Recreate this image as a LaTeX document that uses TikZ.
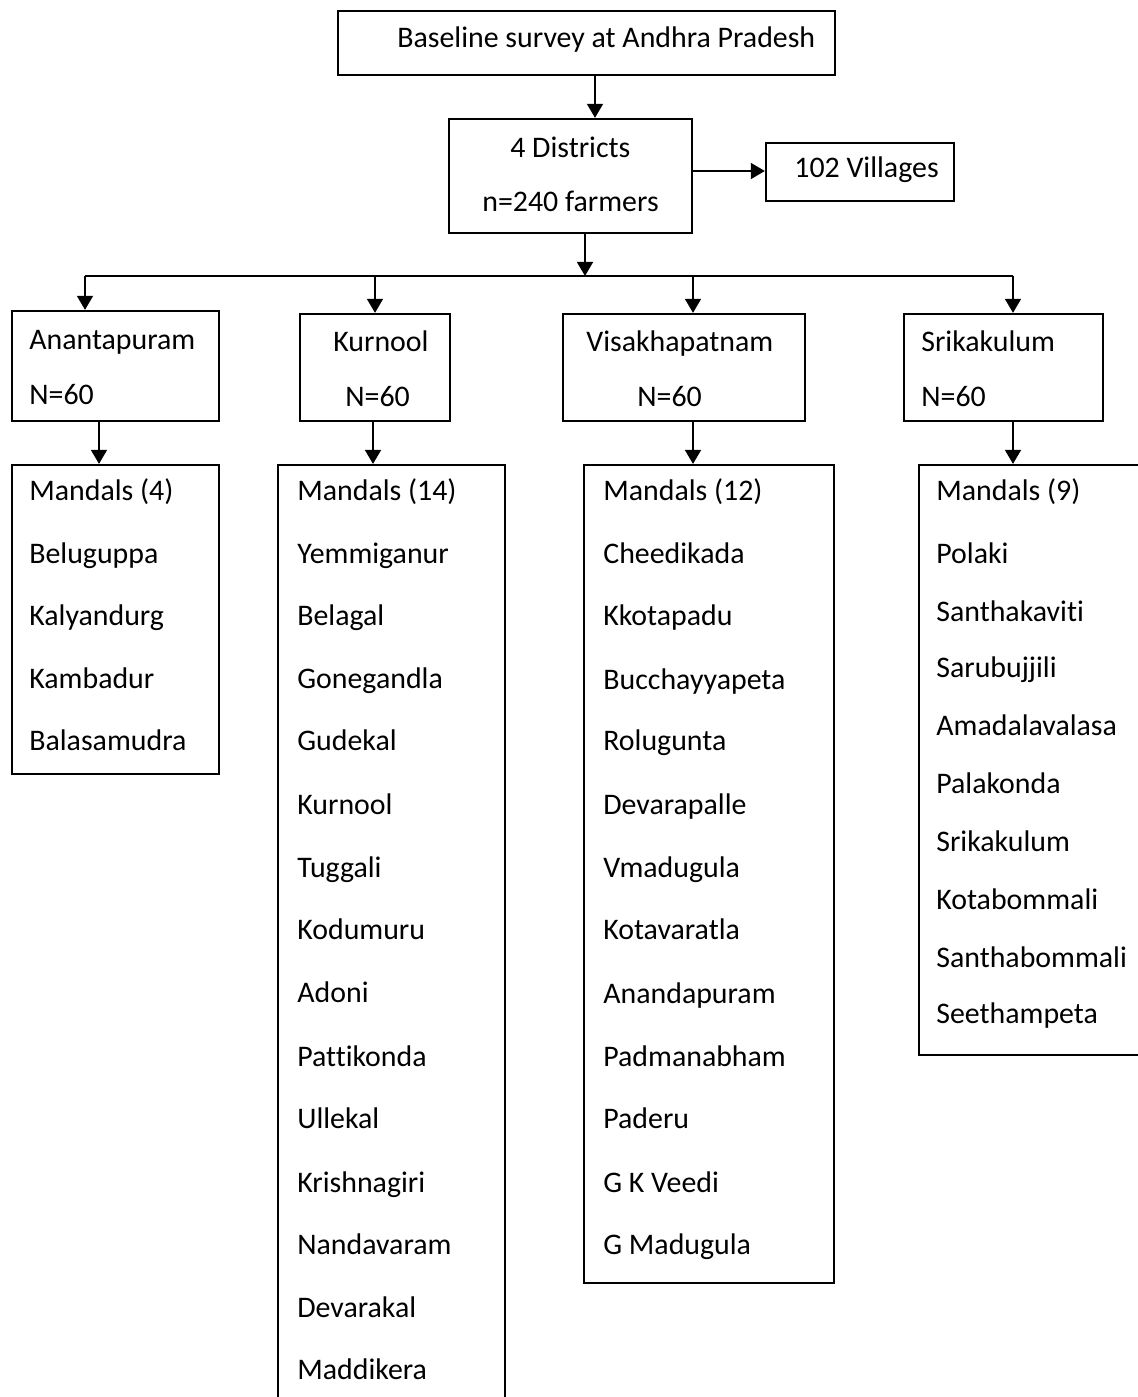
\documentclass[tikz,border=0pt]{standalone}
\usepackage{fontspec}
\setmainfont{Carlito}[Ligatures=CommonOff]
\usetikzlibrary{arrows.meta}
\begin{document}
\begin{tikzpicture}[x=0.02cm,y=-0.02cm,
  box/.style={draw, line width=1.3pt, inner sep=0pt},
  lbl/.style={anchor=base west, inner sep=0pt, font=\fontsize{17}{20}\selectfont},
  arr/.style={line width=1.3pt, -{Triangle[width=9pt,length=8pt]}},
  ln/.style={line width=1.3pt}]
\useasboundingbox (0,0) rectangle (1137,1397);
\fill[white] (0,0) rectangle (1137,1397);

% boxes
\node[box, minimum width=9.94cm, minimum height=1.28cm] (top) at (586.5,43) {};
\node[box, minimum width=4.86cm, minimum height=2.28cm] (dist) at (570.5,176) {};
\node[box, minimum width=3.76cm, minimum height=1.16cm] (vil) at (860,172) {};
\node[box, minimum width=4.14cm, minimum height=2.20cm] (ana) at (115.5,366) {};
\node[box, minimum width=3.00cm, minimum height=2.14cm] (kur) at (375,367.5) {};
\node[box, minimum width=4.84cm, minimum height=2.14cm] (vis) at (684,367.5) {};
\node[box, minimum width=3.98cm, minimum height=2.14cm] (sri) at (1003.5,367.5) {};
\node[box, minimum width=4.14cm, minimum height=6.18cm] (lA) at (115.5,619.5) {};
\node[box, minimum width=4.54cm, minimum height=18.9cm] (lK) at (391.5,937.5) {};
\node[box, minimum width=5.00cm, minimum height=16.36cm] (lV) at (709,874) {};
\node[box, minimum width=4.52cm, minimum height=11.8cm] (lS) at (1032,760) {};

% texts in the upper boxes
\node[lbl] (tTop) at (397,47) {Baseline survey at Andhra Pradesh};
\node[lbl] (tD1) at (510,157) {4 Districts};
\node[lbl] (tD2) at (482,211) {n=240 farmers};
\node[lbl] (tVil) at (794,177) {102 Villages};
\node[lbl] (tA1) at (29,349) {Anantapuram};
\node[lbl] (tA2) at (29,404) {N=60};
\node[lbl] (tK1) at (333,351) {Kurnool};
\node[lbl] (tK2) at (345,406) {N=60};
\node[lbl] (tV1) at (586,351) {Visakhapatnam};
\node[lbl] (tV2) at (637,406) {N=60};
\node[lbl] (tS1) at (921,351) {Srikakulum};
\node[lbl] (tS2) at (921,406) {N=60};

% lists
\foreach \t/\y [count=\i] in {Mandals (4)/491, Beluguppa/554, Kalyandurg/616, Kambadur/679, Balasamudra/741}
  \node[lbl] (a\i) at (29,\y+9) {\t};
\foreach \t/\y [count=\i] in {Mandals (14)/491, Yemmiganur/554, Belagal/616, Gonegandla/679, Gudekal/741, Kurnool/805, Tuggali/868, Kodumuru/930, Adoni/993, Pattikonda/1057, Ullekal/1119, Krishnagiri/1183, Nandavaram/1245, Devarakal/1308, Maddikera/1370}
  \node[lbl] (k\i) at (297,\y+9) {\t};
\foreach \t/\y [count=\i] in {Mandals (12)/491, Cheedikada/554, Kkotapadu/616, Bucchayyapeta/680, Rolugunta/741, Devarapalle/805, Vmadugula/868, Kotavaratla/930, Anandapuram/994, Padmanabham/1057, Paderu/1119, G K Veedi/1183, G Madugula/1245}
  \node[lbl] (v\i) at (603,\y+9) {\t};
\foreach \t/\y [count=\i] in {Mandals (9)/491, Polaki/554, Santhakaviti/612, Sarubujjili/668, Amadalavalasa/726, Palakonda/784, Srikakulum/842, Kotabommali/900, Santhabommali/958, Seethampeta/1014}
  \node[lbl] (s\i) at (936,\y+9) {\t};

% connectors
\coordinate (x595) at (595,0);
\draw[arr] (top.south -| x595) -- (dist.north -| x595);
\coordinate (y171) at (0,171);
\draw[arr] (dist.east |- y171) -- (vil.west |- y171);
\coordinate (bus) at (585,276);
\draw[arr] (dist.south -| bus) -- (bus);
\coordinate (busL) at (85,276);
\coordinate (busK) at (375,276);
\coordinate (busV) at (693,276);
\coordinate (busR) at (1013,276);
\draw[ln] (busL) -- (busR);
\draw[arr] (busL) -- (ana.north -| busL);
\draw[arr] (busK) -- (kur.north -| busK);
\draw[arr] (busV) -- (vis.north -| busV);
\draw[arr] (busR) -- (sri.north -| busR);
\coordinate (x99) at (99,0);
\coordinate (x373) at (373,0);
\draw[arr] (ana.south -| x99) -- (lA.north -| x99);
\draw[arr] (kur.south -| x373) -- (lK.north -| x373);
\draw[arr] (vis.south -| busV) -- (lV.north -| busV);
\draw[arr] (sri.south -| busR) -- (lS.north -| busR);
\end{tikzpicture}
\end{document}
